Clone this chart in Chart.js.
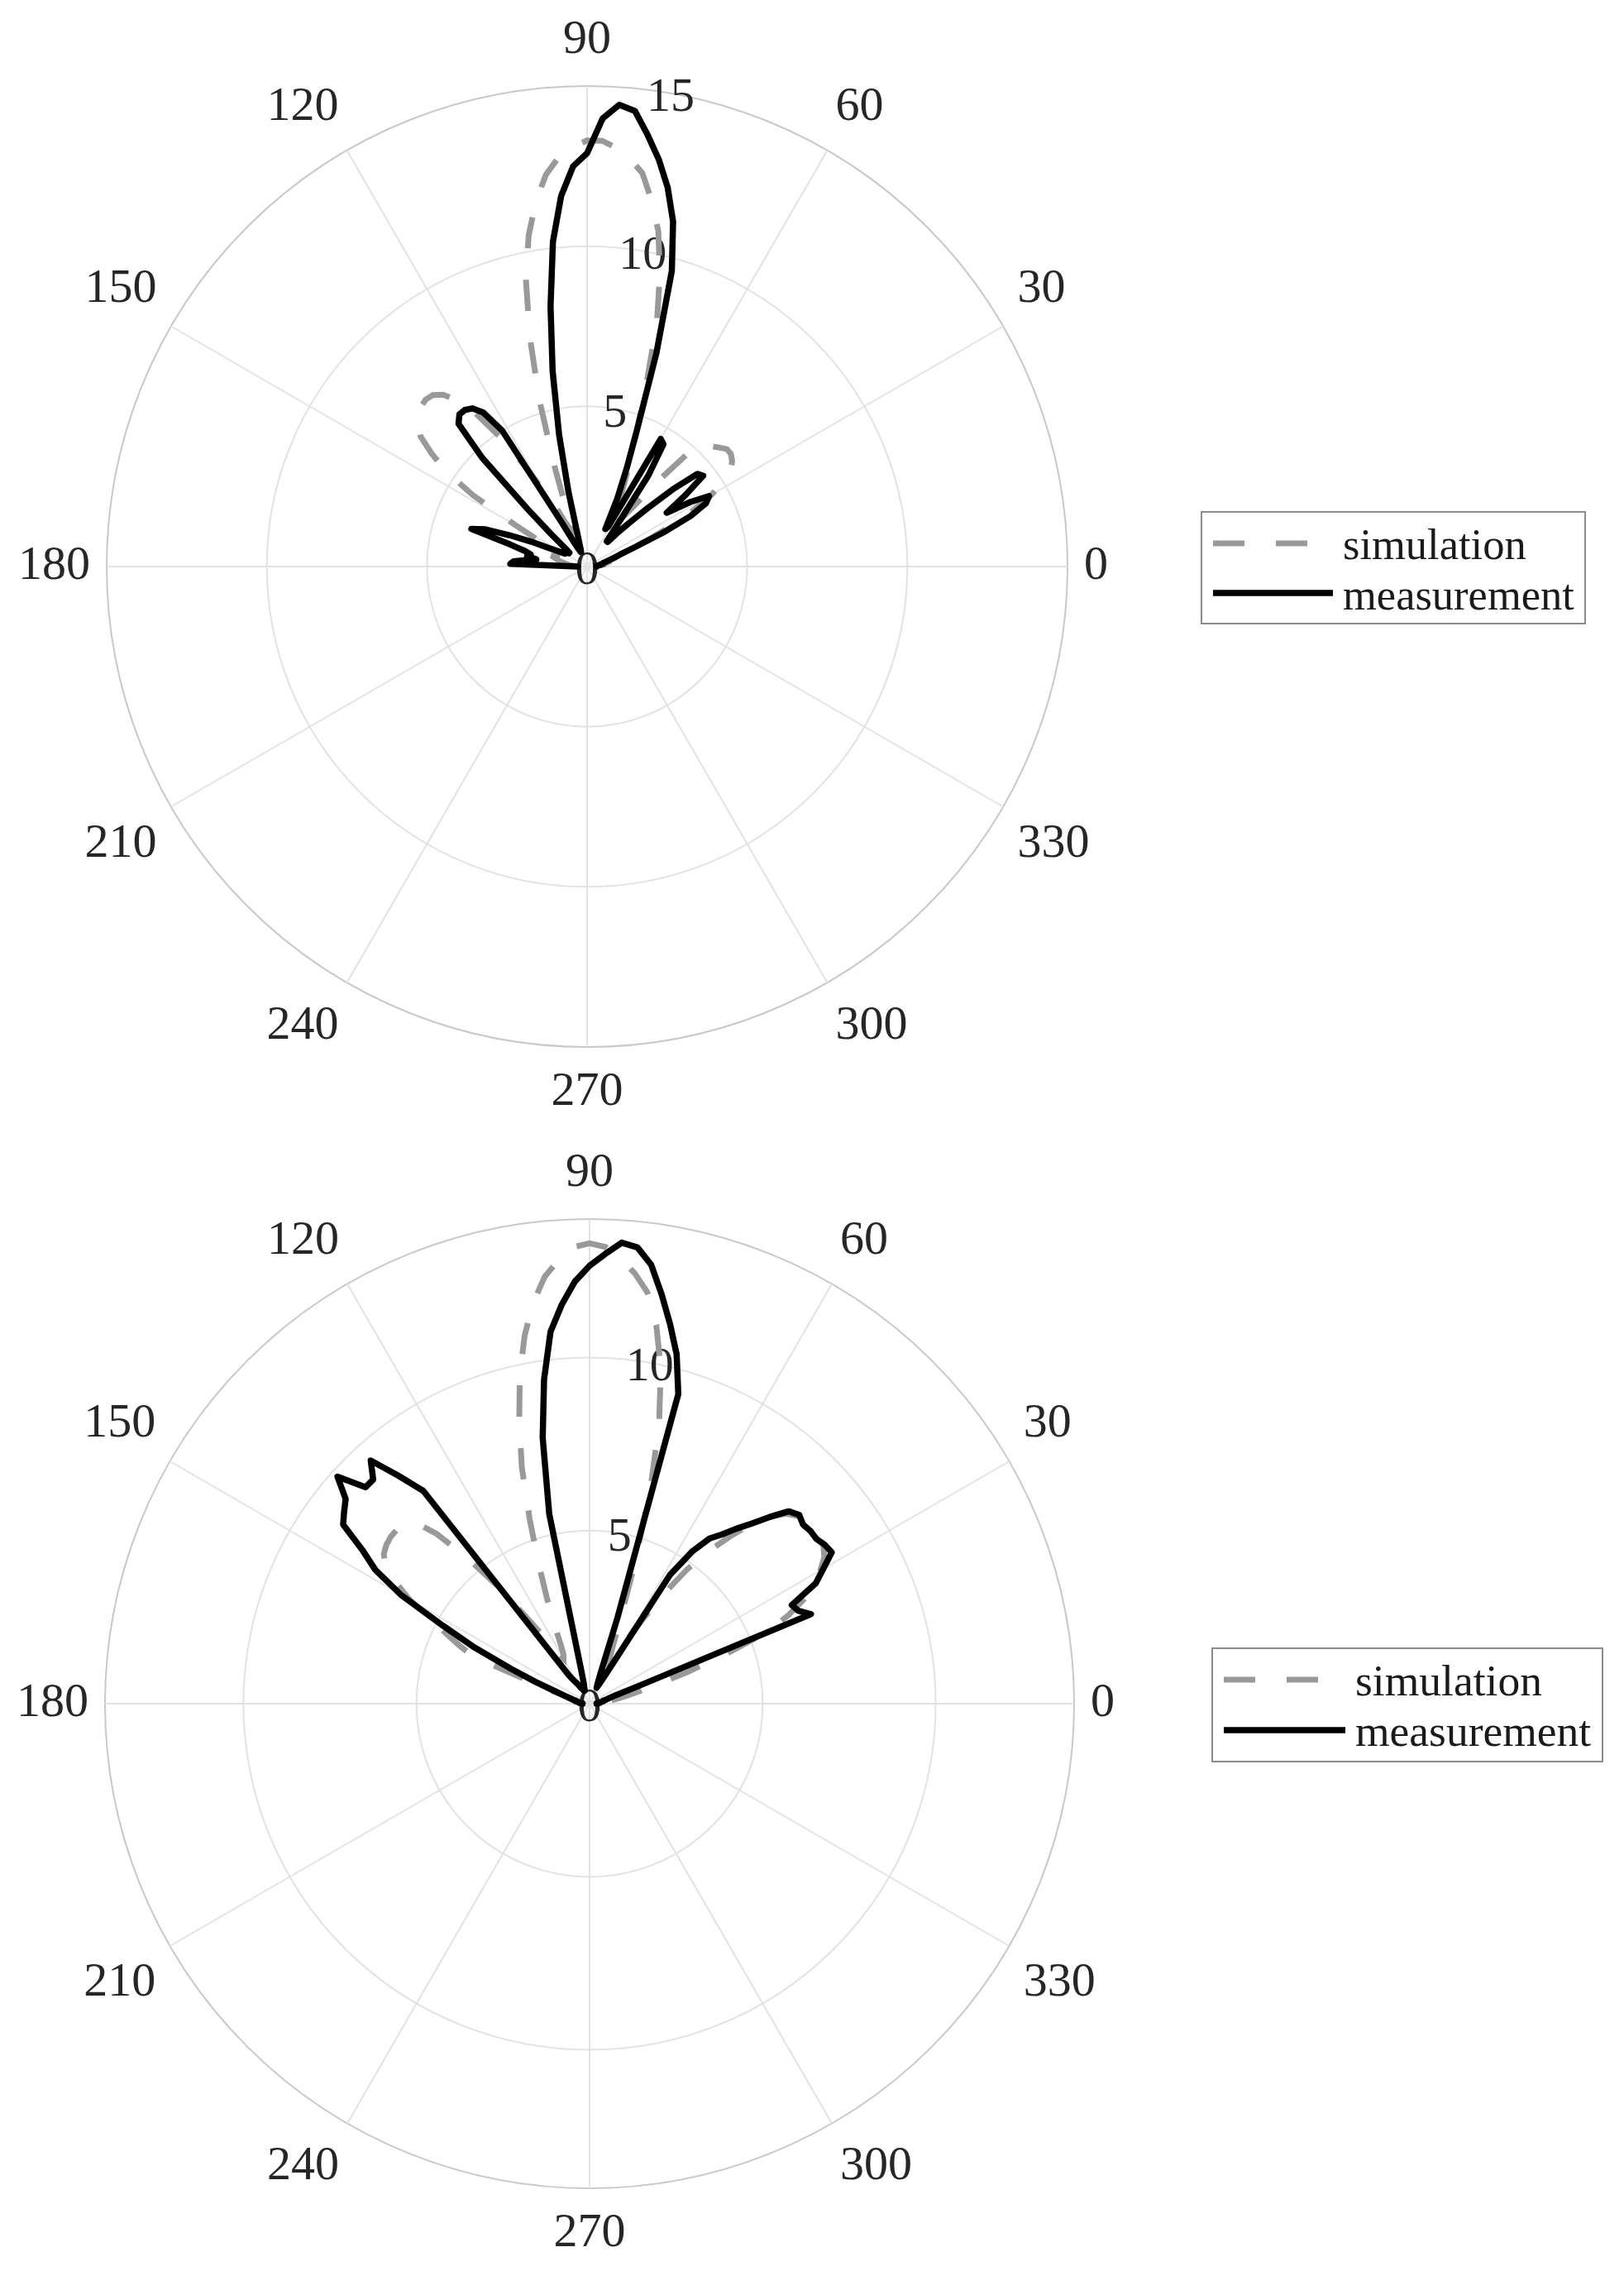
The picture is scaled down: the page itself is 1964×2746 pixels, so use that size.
<!DOCTYPE html>
<html>
<head>
<meta charset="utf-8">
<title>Radiation pattern: simulation vs measurement</title>
<script src="https://cdn.jsdelivr.net/npm/chart.js@4.4.2/dist/chart.umd.min.js"></script>
<style>
  html, body { margin: 0; padding: 0; background: #fff; overflow: hidden; }
  body { width: 1964px; height: 2746px; position: relative; font-family: 'Liberation Serif', 'Times New Roman', serif; }
  .plot { position: absolute; }
  .legend { position: absolute; box-sizing: border-box; border: 2px solid #8c8c8c; background: #fff; }
  .legend svg { position: absolute; overflow: visible; }
  .legend span { position: absolute; line-height: 1; color: #1a1a1a; white-space: nowrap; }
</style>
</head>
<body>
<div class="plot" style="left:-7px; top:-3px;"><canvas id="plot-top" width="1376" height="1376"></canvas></div>
<div class="legend" id="legend-top" style="left:1452px; top:618px; width:466px; height:137px;"></div>
<div class="plot" style="left:-9px; top:1367px;"><canvas id="plot-bottom" width="1386" height="1386"></canvas></div>
<div class="legend" id="legend-bottom" style="left:1465px; top:1992px; width:474px; height:139px;"></div>

<script>
// angle of every sample (degrees, 0..180 every 2 degrees)
const anglesDeg = Array.from({ length: 91 }, (_, i) => i * 2);

// r ticks of each plot
const rTicksTop = [0, 5, 10, 15];
const rTicksBottom = [0, 5, 10, 14];

// top plot
const simTop = [
  0.4, 0.4, 0.4, 0.5, 0.5, 0.6, 0.7, 0.8, 0.9, 1.0,
  1.2, 1.6, 2.2, 3.0, 3.8, 4.5, 5.0, 5.4, 5.6, 5.7,
  5.7, 5.55, 5.4, 5.3, 5.0, 3.6, 2.5, 1.9, 1.6, 1.5,
  1.6, 1.9, 2.3, 2.9, 3.6, 4.6, 6.0, 7.9, 9.4, 10.7,
  11.6, 12.4, 12.8, 13.1, 13.3, 13.3, 13.1, 12.8, 12.3, 11.5,
  10.5, 9.2, 7.4, 5.4, 3.3, 1.9, 1.3, 1.2, 1.5, 2.2,
  2.8, 3.8, 4.9, 5.9, 6.6, 7.0, 7.2, 7.25, 7.2, 7.1,
  6.9, 6.6, 6.0, 5.3, 4.2, 2.6, 1.6, 1.1, 0.9, 0.9,
  1.0, 1.1, 1.1, 1.0, 0.9, 0.8, 0.7, 0.6, 0.5, 0.4,
  0.4
];
const measTop = [
  0.3, 0.3, 0.3, 0.4, 0.4, 0.5, 0.5, 0.6, 0.7, 0.9,
  1.1, 1.6, 2.6, 3.6, 4.2, 4.4, 3.8, 3.0, 3.8, 4.6,
  4.5, 3.6, 2.6, 1.9, 1.4, 1.0, 1.0, 1.6, 3.4, 4.5,
  4.6, 1.4, 1.3, 2.3, 3.3, 4.6, 7.0, 9.6, 11.1, 12.1,
  12.9, 13.6, 14.3, 14.45, 14.0, 12.9, 12.5, 11.6, 10.2, 8.2,
  6.2, 4.2, 2.4, 1.2, 0.8, 0.6, 0.5, 0.5, 0.6, 0.8,
  1.6, 5.0, 5.8, 6.1, 6.2, 6.2, 6.0, 4.7, 2.6, 1.5,
  0.9, 0.7, 0.7, 0.8, 0.8, 0.8, 1.0, 1.3, 1.9, 2.6,
  3.4, 3.8, 2.5, 2.0, 1.8, 1.9, 1.6, 1.9, 2.3, 2.4,
  0.3
];

// bottom plot
const simBottom = [
  0.3, 0.3, 0.4, 0.5, 0.6, 0.8, 1.1, 1.5, 2.1, 3.0,
  4.2, 5.5, 6.3, 6.9, 7.3, 7.7, 8.0, 8.15, 8.2, 8.2,
  8.15, 8.1, 7.9, 7.5, 7.0, 6.3, 5.6, 4.8, 3.8, 2.8,
  2.0, 1.5, 1.3, 1.4, 1.8, 2.6, 4.1, 6.3, 8.3, 9.9,
  11.1, 12.0, 12.5, 12.9, 13.2, 13.3, 13.2, 12.85, 12.4, 11.7,
  10.8, 9.7, 8.4, 7.1, 5.6, 4.3, 3.3, 2.5, 1.9, 1.6,
  1.5, 1.7, 2.2, 3.0, 4.3, 5.5, 6.6, 7.3, 7.45, 7.5,
  7.5, 7.45, 7.35, 7.1, 6.6, 6.0, 5.2, 4.6, 4.1, 3.6,
  1.6, 0.9, 0.7, 0.6, 0.5, 0.4, 0.4, 0.3, 0.3, 0.3,
  0.3
];
const measBottom = [
  0.2, 0.2, 0.3, 0.3, 0.3, 0.4, 0.4, 0.5, 0.6, 0.8,
  1.6, 6.9, 6.6, 6.5, 7.4, 7.8, 8.25, 8.2, 8.1, 8.1,
  8.05, 8.15, 8.0, 7.5, 7.0, 6.6, 6.2, 5.9, 5.3, 4.4,
  1.3, 0.8, 0.6, 0.5, 0.6, 0.9, 2.6, 9.3, 10.4, 11.2,
  12.0, 12.8, 13.25, 13.35, 13.0, 12.65, 12.2, 11.55, 10.8, 9.45,
  7.8, 5.6, 1.0, 0.6, 0.5, 0.4, 0.4, 0.4, 0.5, 0.5,
  0.6, 0.7, 0.8, 1.0, 7.8, 8.6, 9.45, 9.0, 9.0, 9.8,
  9.2, 9.0, 8.8, 7.9, 7.3, 6.3, 4.8, 3.7, 2.5, 1.7,
  1.1, 0.8, 0.6, 0.5, 0.4, 0.4, 0.3, 0.3, 0.3, 0.2,
  0.2
];

const fontFamily = "'Liberation Serif', 'Times New Roman', serif";
const textColor = '#262626';
const gridColor = '#e2e2e2';
const edgeColor = '#c8c8c8';

// radar goes clockwise from the top, so walk the angles downwards,
// starting at 80 deg (where the r labels sit, as in the original)
const thetaStart = 80;
const thetaStep = 2;
const thetaLabels = Array.from({ length: 360 / thetaStep }, (_, i) => (thetaStart - i * thetaStep + 360) % 360);

function toRadar(values) {
  return thetaLabels.map(t => {
    const k = anglesDeg.indexOf(t);
    return k < 0 ? null : values[k];
  });
}

// r tick labels, kept upright (the built-in ones get rotated with startAngle)
// drawn under the curves, like the original
const rTickLabels = {
  id: 'rTickLabels',
  beforeDatasetsDraw(chart) {
    const scale = chart.scales.r;
    const ctx = chart.ctx;
    ctx.save();
    ctx.font = '58px ' + fontFamily;
    ctx.fillStyle = textColor;
    ctx.textAlign = 'center';
    ctx.textBaseline = 'middle';
    scale.ticks.forEach(tick => {
      if (!tick.label) return;
      const p = scale.getPointPosition(0, scale.getDistanceFromCenterForValue(tick.value));
      ctx.fillText(tick.label, p.x, p.y + 6);
    });
    ctx.restore();
  }
};

function polarChart(canvas, sim, meas, rTicks) {
  const rMax = rTicks[rTicks.length - 1];
  return new Chart(canvas, {
    type: 'radar',
    data: {
      labels: thetaLabels,
      datasets: [
        {
          label: 'simulation',
          data: toRadar(sim),
          borderColor: '#999999',
          borderWidth: 7,
          borderDash: [38, 38],
          order: 1
        },
        {
          label: 'measurement',
          data: toRadar(meas),
          borderColor: '#000000',
          borderWidth: 7.5,
          borderJoinStyle: 'round',
          borderCapStyle: 'round',
          order: 0
        }
      ]
    },
    options: {
      responsive: false,
      animation: false,
      elements: {
        point: { radius: 0, hoverRadius: 0 },
        line: { tension: 0, fill: false }
      },
      plugins: {
        legend: { display: false },
        tooltip: { enabled: false }
      },
      scales: {
        r: {
          min: 0,
          max: rMax,
          startAngle: 90 - thetaStart,
          afterBuildTicks: scale => { scale.ticks = rTicks.map(v => ({ value: v })); },
          ticks: { display: false, callback: v => (v % 5 === 0 ? String(v) : '') },
          grid: {
            circular: true,
            lineWidth: 2,
            color: ctx => (ctx.tick && ctx.tick.value === rMax ? edgeColor : gridColor)
          },
          angleLines: {
            color: gridColor,
            lineWidth: ctx => (ctx.label !== '' ? 2 : 0)
          },
          pointLabels: {
            callback: label => (label % 30 === 0 ? String(label) : ''),
            font: { family: fontFamily, size: 58 },
            color: textColor,
            padding: 20
          }
        }
      }
    },
    plugins: [rTickLabels]
  });
}

// html legend built from the datasets
function buildLegend(chart, el, opt) {
  const svgNS = 'http://www.w3.org/2000/svg';
  el.innerHTML = '';
  chart.data.datasets.forEach((ds, i) => {
    const svg = document.createElementNS(svgNS, 'svg');
    svg.setAttribute('width', opt.sampleWidth);
    svg.setAttribute('height', 20);
    svg.style.left = opt.sampleX + 'px';
    svg.style.top = (opt.lineY[i] - 10) + 'px';
    const line = document.createElementNS(svgNS, 'line');
    line.setAttribute('x1', 0);
    line.setAttribute('y1', 10);
    line.setAttribute('x2', opt.sampleWidth);
    line.setAttribute('y2', 10);
    line.setAttribute('stroke', ds.borderColor);
    line.setAttribute('stroke-width', ds.borderWidth);
    if (ds.borderDash) line.setAttribute('stroke-dasharray', ds.borderDash.join(' '));
    svg.appendChild(line);
    el.appendChild(svg);

    const span = document.createElement('span');
    span.textContent = ds.label;
    span.style.fontSize = opt.fontSize + 'px';
    span.style.left = opt.textX + 'px';
    span.style.top = (opt.baseline[i] - 0.8375 * opt.fontSize) + 'px';
    el.appendChild(span);
  });
}

Chart.defaults.font.family = fontFamily;

const topChart = polarChart(document.getElementById('plot-top'), simTop, measTop, rTicksTop);
const bottomChart = polarChart(document.getElementById('plot-bottom'), simBottom, measBottom, rTicksBottom);

buildLegend(topChart, document.getElementById('legend-top'), {
  sampleX: 13, sampleWidth: 145, textX: 170, lineY: [37, 97], baseline: [56, 117], fontSize: 52.5
});
buildLegend(bottomChart, document.getElementById('legend-bottom'), {
  sampleX: 13, sampleWidth: 147, textX: 172, lineY: [37, 98], baseline: [57, 118], fontSize: 53.5
});
</script>
</body>
</html>
